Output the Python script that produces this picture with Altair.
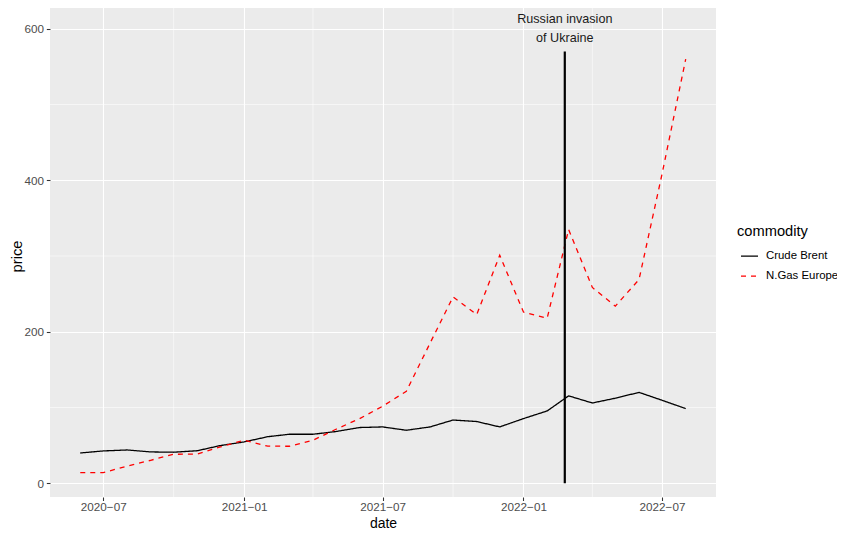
import altair as alt
import pandas as pd

# ---- data ----
dates = [
    "2020-06-01", "2020-07-01", "2020-08-01", "2020-09-01", "2020-10-01", "2020-11-01",
    "2020-12-01", "2021-01-01", "2021-02-01", "2021-03-01", "2021-04-01", "2021-05-01",
    "2021-06-01", "2021-07-01", "2021-08-01", "2021-09-01", "2021-10-01", "2021-11-01",
    "2021-12-01", "2022-01-01", "2022-02-01", "2022-03-01", "2022-04-01", "2022-05-01",
    "2022-06-01", "2022-07-01", "2022-08-01",
]
brent = [40.0, 42.7, 44.0, 41.4, 41.0, 43.0, 49.8, 54.6, 61.5, 64.7, 64.7, 68.3,
         73.6, 74.4, 70.0, 74.4, 83.5, 81.5, 74.4, 85.4, 95.5, 115.4, 106.0, 112.3,
         120.0, 109.6, 98.6]
gas = [14.1, 14.1, 22.5, 30.4, 38.3, 38.6, 48.0, 56.8, 49.0, 48.9, 56.8, 71.3,
       85.4, 101.7, 121.5, 185.0, 246.0, 222.8, 301.0, 226.0, 218.0, 335.0, 258.5, 233.8,
       269.0, 408.0, 560.0]
commodities = ["Crude Brent", "N.Gas Europe"]

invasion_date = ["2022-02-24"]
invasion_top = [570]
label_price = [600]
label_lines = ["Russian invasion", "of Ukraine"]

y_major = [0, 200, 400, 600]
y_minor = [100, 300, 500]
x_major = ["2020-07-01", "2021-01-01", "2021-07-01", "2022-01-01", "2022-07-01"]
x_minor = ["2020-10-01", "2021-04-01", "2021-10-01", "2022-04-01"]

FONT = "Liberation Sans"
W, H = 666, 491

# ---- tables ----
df = pd.DataFrame({
    "date": dates * 2,
    "price": brent + gas,
    "commodity": [commodities[0]] * len(dates) + [commodities[1]] * len(dates),
})
vline_df = pd.DataFrame({"date": invasion_date, "y0": [0], "y1": invasion_top})
label_df = pd.DataFrame({"date": invasion_date, "price": label_price})
xminor_df = pd.DataFrame({"date": x_minor})
yminor_df = pd.DataFrame({"price": y_minor})


def dt(s, h=0, mi=0):
    y, m, d = [int(v) for v in s.split("-")]
    return alt.DateTime(year=y, month=m, date=d, hours=h, minutes=mi, utc=True)


x_scale = alt.Scale(type="utc", domain=[dt("2020-04-22", 11, 2), dt("2022-09-09", 12, 58)])
y_scale = alt.Scale(domain=[-18.1, 630], nice=False, zero=False)

x_axis = alt.Axis(values=[dt(s) for s in x_major], format="%Y-%m",
                  labelExpr="replace(datum.label, '-', '\u2212')", title="date",
                  tickSize=3.5, labelPadding=1.2,
                  titleFontSize=14, titleBaseline="alphabetic", titleX=W / 2, titleY=30.6)
y_axis = alt.Axis(values=y_major, title="price",
                  titleBaseline="alphabetic", titleX=-29, titleY=250)

minor_x = alt.Chart(xminor_df).mark_rule(color="white", strokeWidth=0.55).encode(
    x=alt.X("date:T", scale=x_scale, axis=x_axis)
)
minor_y = alt.Chart(yminor_df).mark_rule(color="white", strokeWidth=0.55).encode(
    y=alt.Y("price:Q", scale=y_scale, axis=y_axis)
)

legend = alt.Legend(title="commodity", orient="none", legendX=687, legendY=218)

lines = alt.Chart(df).mark_line(strokeWidth=1.3).encode(
    x=alt.X("date:T", scale=x_scale, axis=x_axis),
    y=alt.Y("price:Q", scale=y_scale, axis=y_axis),
    color=alt.Color("commodity:N",
                    scale=alt.Scale(domain=commodities, range=["black", "red"]),
                    legend=legend),
    strokeDash=alt.StrokeDash("commodity:N",
                              scale=alt.Scale(domain=commodities, range=[[1, 0], [5, 5]]),
                              legend=legend),
)

vline = alt.Chart(vline_df).mark_rule(color="black", strokeWidth=2.2).encode(
    x=alt.X("date:T", scale=x_scale, axis=x_axis),
    y=alt.Y("y0:Q", scale=y_scale, axis=y_axis),
    y2="y1:Q",
)

label = alt.Chart(label_df).mark_text(
    text=label_lines, font=FONT, fontSize=12.6, lineHeight=19, dy=-9.5,
    align="center", baseline="middle", color="#1A1A1A",
).encode(
    x=alt.X("date:T", scale=x_scale, axis=x_axis),
    y=alt.Y("price:Q", scale=y_scale, axis=y_axis),
)

chart = alt.layer(minor_x, minor_y, lines, vline, label).properties(
    width=W, height=H,
    autosize=alt.AutoSizeParams(type="none"),
    padding={"left": 42, "top": -2, "right": 121, "bottom": 34},
).configure_view(
    fill="#EBEBEB", stroke=None,
).configure_axis(
    domain=False, grid=True, gridColor="white", gridWidth=1.1,
    tickColor="#333333", tickSize=3.67, tickWidth=1.07,
    labelColor="#4D4D4D", labelFontSize=11.7, labelPadding=2.9, labelFont=FONT,
    titleFont=FONT, titleFontSize=14.67, titleFontWeight="normal", titleColor="black",
).configure_legend(
    titleFont=FONT, titleFontSize=14.67, titleFontWeight="normal", titleColor="black",
    labelFont=FONT, labelFontSize=11.4, labelColor="black", labelLimit=200,
    symbolType="stroke", symbolSize=289, symbolStrokeWidth=1.3,
    symbolOffset=3, labelOffset=7, rowPadding=5, titlePadding=8, padding=0,
)

chart.save("out.html", embed_options={"renderer": "svg", "actions": False})
